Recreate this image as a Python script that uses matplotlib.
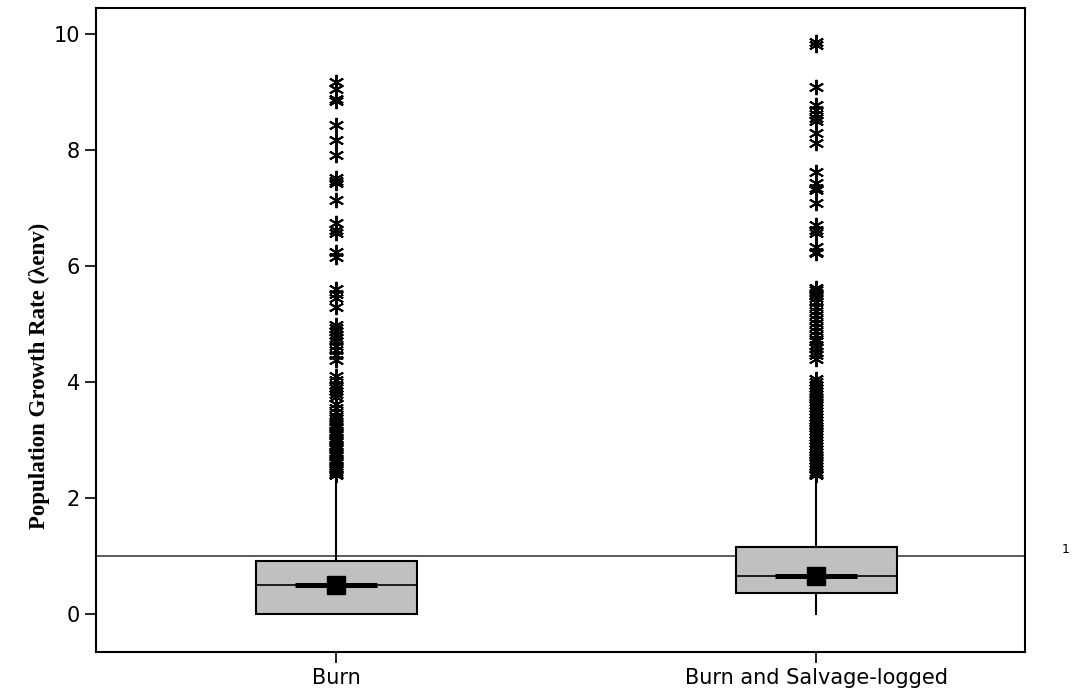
import numpy as np
import matplotlib
matplotlib.use("Agg")
import matplotlib.pyplot as plt

groups = ["Burn", "Burn and Salvage-logged"]
q1 = [0.0, 0.37]
median = [0.50, 0.65]
q3 = [0.92, 1.16]
mean = [0.50, 0.65]
whislo = [0.0, 0.0]
whishi = [2.33, 2.38]
ci_half = [0.085, 0.085]
ref_level = 1.0

burn_outliers = [9.18, 9.05, 8.88, 8.85, 8.43, 8.17, 7.92, 7.52, 7.47, 7.44,
                 7.14, 6.74, 6.62, 6.57, 6.24, 6.15, 5.60, 5.52, 5.45, 5.30,
                 4.98, 4.93, 4.88, 4.82, 4.76, 4.70, 4.62, 4.55, 4.47, 4.38,
                 4.10, 4.03, 3.95, 3.90, 3.85, 3.80, 3.74, 3.62, 3.55, 3.48,
                 3.42, 3.38, 3.33, 3.28, 3.24, 3.20, 3.16, 3.12, 3.08, 3.04,
                 3.00, 2.96, 2.92, 2.88, 2.84, 2.80, 2.76, 2.72, 2.68, 2.64,
                 2.60, 2.56, 2.52, 2.48, 2.45, 2.42, 2.40]
salvage_outliers = [9.87, 9.82, 9.09, 8.78, 8.70, 8.62, 8.55, 8.50, 8.29, 8.12,
                    7.62, 7.43, 7.35, 7.31, 7.09, 6.71, 6.62, 6.57, 6.33, 6.25,
                    6.22, 5.62, 5.58, 5.54, 5.50, 5.45, 5.38, 5.30, 5.22, 5.15,
                    5.08, 5.02, 4.95, 4.88, 4.82, 4.75, 4.70, 4.64, 4.58, 4.52,
                    4.46, 4.40, 4.06, 4.00, 3.95, 3.90, 3.85, 3.80, 3.75, 3.70,
                    3.65, 3.60, 3.55, 3.50, 3.45, 3.40, 3.35, 3.30, 3.25, 3.20,
                    3.15, 3.10, 3.05, 3.00, 2.95, 2.90, 2.85, 2.80, 2.75, 2.70,
                    2.65, 2.60, 2.55, 2.50, 2.45, 2.42, 2.40]
outliers = [burn_outliers, salvage_outliers]

stats = []
for i in range(len(groups)):
    stats.append(dict(label=groups[i], q1=q1[i], med=median[i], q3=q3[i],
                      mean=mean[i], whislo=whislo[i], whishi=whishi[i],
                      fliers=outliers[i]))

fig = plt.figure(figsize=(10.73, 6.92), dpi=100)
ax = fig.add_axes([0.0895, 0.0578, 0.8658, 0.9306])

pos = np.arange(1, len(groups) + 1)
ax.axhline(ref_level, color="#404040", lw=1.2, zorder=1)

ax.bxp(stats, positions=pos, widths=0.335, patch_artist=True,
       showmeans=True, showcaps=False,
       boxprops=dict(facecolor="#c0c0c0", edgecolor="black", lw=1.5),
       medianprops=dict(color="black", lw=1.2),
       whiskerprops=dict(color="black", lw=1.5),
       meanprops=dict(marker="s", markersize=13, markerfacecolor="black",
                      markeredgecolor="black"),
       flierprops=dict(marker=(6, 2, 0), markersize=11, markeredgewidth=1.4,
                       markeredgecolor="black", linestyle="none"),
       zorder=2)

# thick bar around the median
for p, m, h in zip(pos, median, ci_half):
    ax.hlines(m, p - h, p + h, color="black", lw=3.6, zorder=3)

ax.text(1.039, (ref_level + 0.655) / 11.105, "1", transform=ax.transAxes,
        fontsize=9, va="bottom", ha="left", clip_on=False)

ax.set_xlim(0.5, 2.435)
ax.set_ylim(-0.655, 10.45)
ax.set_xticks(pos)
ax.set_xticklabels(groups)
ax.set_yticks([0, 2, 4, 6, 8, 10])
ax.tick_params(axis="both", labelsize=15, length=8, width=1.2, direction="out")
for s in ax.spines.values():
    s.set_linewidth(1.5)
ax.set_ylabel("Population Growth Rate (λenv)", family="Liberation Serif",
              fontweight="bold", fontsize=16.5)
ax.yaxis.set_label_coords(-0.050, 0.4286)

fig.savefig("out.png", dpi=100)
